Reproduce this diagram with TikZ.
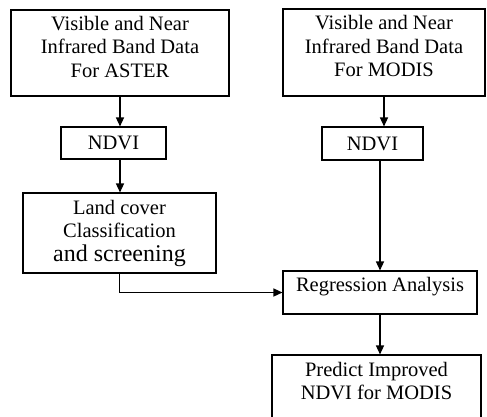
\documentclass[tikz,border=0pt]{standalone}
\usepackage{fontspec}
\setmainfont{Liberation Serif}
\usetikzlibrary{positioning,arrows.meta}

\begin{document}
\begin{tikzpicture}[
    x=1pt, y=-1pt,
    box/.style={rectangle, draw, line width=1.1pt, inner sep=2pt, align=center,
                font=\fontsize{20.5}{23.5}\selectfont},
    arrow/.style={-{Triangle[length=9pt,width=8pt]}, line width=1.4pt}
]
\useasboundingbox (0,0) rectangle (487,416);
\clip (0,0) rectangle (487,416);

% left column
\node[box, minimum width=218pt, minimum height=86pt, text depth=13pt] (aster) at (120,53)
    {Visible and Near\\Infrared Band Data\\For ASTER};
\node[box, minimum width=105pt, minimum height=32pt] (ndviA) at (113.5,143) {NDVI};
\node[box, minimum width=193pt, minimum height=80pt] (landcover) at (119.5,233)
    {Land cover\\Classification\\{\fontsize{24}{26}\selectfont and screening}};

% right column
\node[box, minimum width=202pt, minimum height=87pt, text depth=13pt] (modis) at (384,52.5)
    {Visible and Near\\Infrared Band Data\\For MODIS};
\node[box, minimum width=101pt, minimum height=33pt] (ndviM) at (372.5,143.5) {NDVI};
\node[box, minimum width=194pt, minimum height=43pt, text depth=17pt] (regress) at (380,292.5) {Regression Analysis};
\node[box, minimum width=209pt, minimum height=70pt, text depth=18pt] (predict) at (376.5,390)
    {Predict Improved\\NDVI for MODIS};

\draw[arrow] (aster.south) -- (aster.south |- ndviA.north);
\draw[arrow] (aster.south |- ndviA.south) -- (aster.south |- landcover.north);
\draw[arrow] (modis.south) -- (modis.south |- ndviM.north);
\draw[arrow] (regress.north |- ndviM.south) -- (regress.north);
\draw[arrow] (landcover.south) |- (regress.west);
\draw[arrow] (regress.south) -- (regress.south |- predict.north);

\end{tikzpicture}
\end{document}
